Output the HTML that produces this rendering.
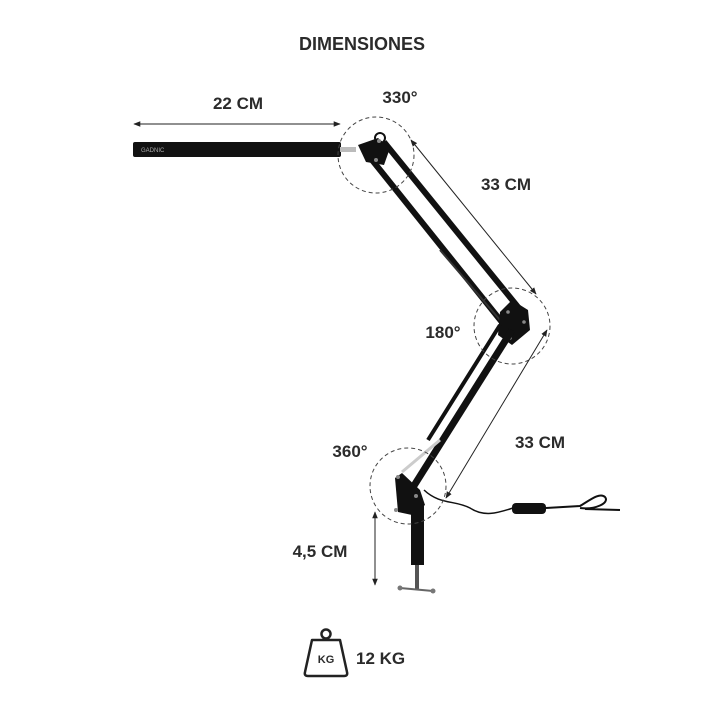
<!DOCTYPE html>
<html><head><meta charset="utf-8"><style>
html,body{margin:0;padding:0;background:#fff;}
svg{display:block;}
text{font-family:"Liberation Sans",sans-serif;font-weight:bold;fill:#2b2b2b;}
</style></head><body>
<svg width="720" height="720" viewBox="0 0 720 720">
<defs>
<marker id="a" viewBox="0 0 10 10" refX="9" refY="5" markerWidth="7" markerHeight="7" orient="auto-start-reverse"><path d="M0,1 L10,5 L0,9 z" fill="#222"/></marker>
</defs>
<text x="362" y="50" font-size="18" text-anchor="middle" fill="#3a3a3a">DIMENSIONES</text>

<!-- 22 CM -->
<text x="238" y="109" font-size="17" text-anchor="middle">22 CM</text>
<line x1="134" y1="124" x2="340" y2="124" stroke="#222" stroke-width="1" marker-start="url(#a)" marker-end="url(#a)"/>
<text x="400" y="103" font-size="17" text-anchor="middle">330°</text>

<!-- lamp bar -->
<rect x="133" y="142" width="208" height="15" rx="2" fill="#111"/>
<text x="141" y="152" font-size="6" fill="#999" style="fill:#aaa;font-weight:normal">GADNIC</text>
<rect x="340" y="147" width="16" height="5" fill="#bbb"/>

<!-- upper arm rods -->
<line x1="384" y1="142" x2="522" y2="312" stroke="#111" stroke-width="6"/>
<line x1="372" y1="160" x2="505" y2="326" stroke="#111" stroke-width="6"/>
<line x1="440" y1="250" x2="500" y2="320" stroke="#333" stroke-width="2"/>
<!-- head joint -->
<path d="M358,145 L378,138 L390,148 L384,165 L366,162 Z" fill="#111"/>
<circle cx="380" cy="138" r="5" fill="none" stroke="#111" stroke-width="2"/>
<circle cx="379" cy="141" r="2" fill="#888"/>
<circle cx="376" cy="160" r="2" fill="#888"/>

<!-- elbow block -->
<path d="M500,312 L512,300 L528,310 L530,330 L512,345 L498,335 Z" fill="#111"/>
<circle cx="508" cy="312" r="1.8" fill="#888"/><circle cx="524" cy="322" r="1.8" fill="#888"/><circle cx="510" cy="338" r="1.8" fill="#888"/>

<!-- lower arm rods -->
<line x1="512" y1="330" x2="410" y2="492" stroke="#111" stroke-width="7"/>
<line x1="500" y1="325" x2="428" y2="440" stroke="#111" stroke-width="4"/>
<line x1="440" y1="440" x2="402" y2="472" stroke="#ccc" stroke-width="3"/>

<!-- base bracket -->
<path d="M395,478 L402,473 L420,490 L425,505 L412,515 L398,512 Z" fill="#111"/>
<circle cx="398" cy="477" r="2" fill="#888"/><circle cx="396" cy="510" r="2" fill="#888"/><circle cx="416" cy="496" r="2" fill="#888"/>
<rect x="411" y="505" width="13" height="60" fill="#111"/>
<rect x="415" y="565" width="4" height="24" fill="#555"/>
<line x1="400" y1="588" x2="433" y2="591" stroke="#666" stroke-width="2"/>
<circle cx="400" cy="588" r="2.5" fill="#777"/><circle cx="433" cy="591" r="2.5" fill="#777"/>

<!-- cord -->
<path d="M424,490 C440,505 455,500 470,508 C485,518 500,512 513,508" fill="none" stroke="#111" stroke-width="1.5"/>
<rect x="512" y="503" width="34" height="11" rx="4" fill="#111"/>
<path d="M546,508 L580,506 C590,500 600,492 605,497 C610,503 595,510 580,508 M585,509 L620,510" fill="none" stroke="#111" stroke-width="2"/>

<!-- dashed circles -->
<g fill="none" stroke="#444" stroke-width="1" stroke-dasharray="4,3">
<circle cx="376" cy="155" r="38"/>
<circle cx="512" cy="326" r="38"/>
<circle cx="408" cy="486" r="38"/>
</g>

<!-- 33 CM upper -->
<line x1="411" y1="140" x2="536" y2="294" stroke="#222" stroke-width="1" marker-start="url(#a)" marker-end="url(#a)"/>
<text x="506" y="190" font-size="17" text-anchor="middle">33 CM</text>
<text x="443" y="338" font-size="17" text-anchor="middle">180°</text>

<!-- 33 CM lower -->
<line x1="547" y1="330" x2="446" y2="498" stroke="#222" stroke-width="1" marker-start="url(#a)" marker-end="url(#a)"/>
<text x="540" y="448" font-size="17" text-anchor="middle">33 CM</text>
<text x="350" y="457" font-size="17" text-anchor="middle">360°</text>

<!-- 4,5 CM -->
<line x1="375" y1="512" x2="375" y2="585" stroke="#222" stroke-width="1" marker-start="url(#a)" marker-end="url(#a)"/>
<text x="320" y="557" font-size="17" text-anchor="middle">4,5 CM</text>

<!-- KG icon -->
<circle cx="326" cy="634" r="4.5" fill="none" stroke="#222" stroke-width="2.5"/>
<path d="M312,640 L340,640 L347,672 Q348,676 344,676 L308,676 Q304,676 305,672 Z" fill="none" stroke="#222" stroke-width="2.5" stroke-linejoin="round"/>
<text x="326" y="663" font-size="11" text-anchor="middle">KG</text>
<text x="356" y="664" font-size="17">12 KG</text>
</svg>
</body></html>
